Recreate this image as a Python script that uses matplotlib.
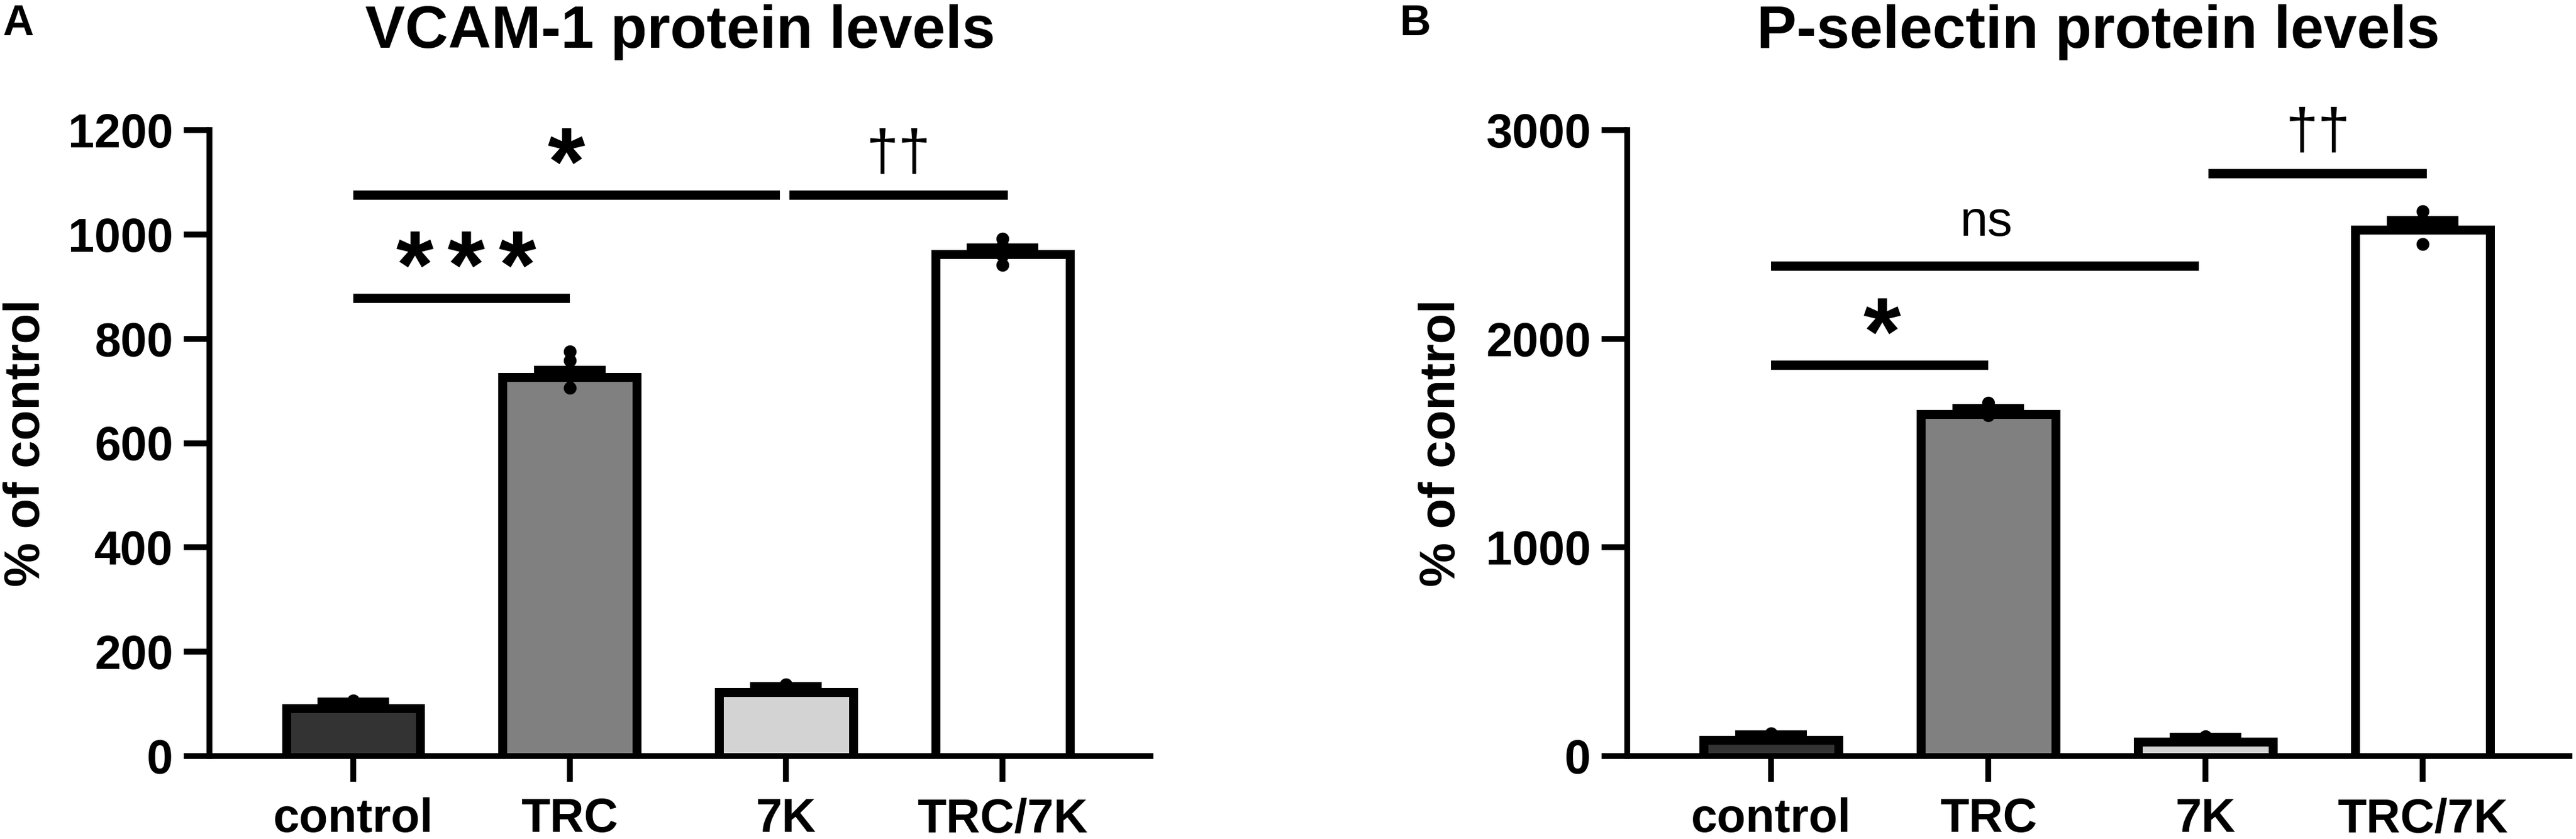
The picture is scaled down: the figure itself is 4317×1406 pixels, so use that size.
import matplotlib
matplotlib.use("Agg")
import matplotlib.pyplot as plt
import numpy as np
from matplotlib.textpath import TextPath
from matplotlib.font_manager import FontProperties
from matplotlib.transforms import ScaledTranslation

# ---------------- data ----------------
categories = ["control", "TRC", "7K", "TRC/7K"]
bar_colors = ["#333333", "#808080", "#d3d3d3", "#ffffff"]

vcam_title = "VCAM-1 protein levels"
vcam_mean = [100, 735, 131, 971]
vcam_sem = [6, 7, 5, 6]
vcam_points = [[106, 101, 97, 96],
               [776, 759, 728, 706],
               [137, 131, 128, 127],
               [992, 978, 960, 941]]
vcam_yticks = [0, 200, 400, 600, 800, 1000, 1200]
vcam_sig_x0 = [0.0, 2.015, 0.0]
vcam_sig_x1 = [1.97, 3.025, 1.0]
vcam_sig_y = [1075, 1075, 877]
vcam_sig_label = ["*", "††", "***"]
vcam_sig_label_x = [0.985, 2.52, 0.52]

psel_title = "P-selectin protein levels"
psel_mean = [100, 1660, 90, 2544]
psel_sem = [8, 13, 6, 30]
psel_points = [[108, 101, 96, 95],
               [1693, 1668, 1645, 1634],
               [95, 91, 88, 86],
               [2611, 2570, 2540, 2454]]
psel_yticks = [0, 1000, 2000, 3000]
psel_sig_x0 = [0.0, 0.0, 2.014]
psel_sig_x1 = [1.0, 1.97, 3.02]
psel_sig_y = [1873, 2348, 2790]
psel_sig_label = ["*", "ns", "††"]
psel_sig_label_x = [0.51, 0.99, 2.517]

ylabel = "% of control"

# ---------------- layout ----------------
DPI = 100
W, H = 4317, 1406
plt.rcParams["font.family"] = ["Liberation Sans", "DejaVu Sans"]
plt.rcParams["font.weight"] = "bold"

fig = plt.figure(figsize=(W / DPI, H / DPI), dpi=DPI)

def px2pt(p):
    return p * 72.0 / DPI

BAR_LW_PX = 15
BAR_W = 0.62

def ink_box(s, weight):
    fp = FontProperties(family=["Liberation Sans", "DejaVu Sans"], weight=weight)
    return TextPath((0, 0), s, size=1, prop=fp).get_extents()

def sig_text(ax, x, y, s):
    if set(s) == {"*"}:
        weight, ink_h, gap, ref = "bold", 60, 52, "*"
    elif "†" in s:
        weight, ink_h, gap, ref = "normal", 77, 36, "†"
    else:
        weight, ink_h, gap, ref = "normal", 45, 51, "n"
    b = ink_box(ref, weight)
    size_px = ink_h / b.height
    fs = px2pt(size_px)
    if ref == "n":
        off = gap
    else:
        off = gap - b.y0 * size_px
    if ref == "*":
        n = len(s)
        spacing = 86
        for k in range(n):
            dx = (k - (n - 1) / 2) * spacing
            ax.annotate("*", xy=(x, y), xytext=(px2pt(dx), px2pt(off)),
                        textcoords="offset points", ha="center", va="baseline",
                        fontsize=fs, fontweight=weight)
    else:
        ax.annotate(s, xy=(x, y), xytext=(0, px2pt(off)),
                    textcoords="offset points", ha="center", va="baseline",
                    fontsize=fs, fontweight=weight)

def panel(left_px, right_px, xlim, mean, sem, points, yticks,
          sx0, sx1, sy, slab, slx, title, letter, letter_px, ylab_px):
    top_px, bot_px = 218, 1267
    ax = fig.add_axes([left_px / W, (H - bot_px) / H,
                       (right_px - left_px) / W, (bot_px - top_px) / H])
    x = np.arange(len(categories))
    bars = ax.bar(x, mean, width=BAR_W, color=bar_colors, edgecolor="black",
                  linewidth=px2pt(BAR_LW_PX), zorder=1)
    shift = ScaledTranslation(0, -BAR_LW_PX / 2 / DPI, fig.dpi_scale_trans)
    for r in bars:
        r.set_transform(ax.transData + shift)
    ax.errorbar(x, mean, yerr=[np.zeros(len(sem)), sem], fmt="none",
                ecolor="black", elinewidth=px2pt(10), capsize=43.2,
                capthick=px2pt(10), zorder=3)
    for i, pts in enumerate(points):
        ax.plot(np.full(len(pts), x[i]), pts, "o", color="black",
                ms=px2pt(21.5), mew=0, zorder=4, clip_on=False)
    for a, b_, yy in zip(sx0, sx1, sy):
        ax.plot([a, b_], [yy, yy], color="black", lw=px2pt(15.5),
                solid_capstyle="butt", zorder=3, clip_on=False)
    for lab, lx, yy in zip(slab, slx, sy):
        sig_text(ax, lx, yy, lab)

    ax.set_xlim(*xlim)
    ax.set_ylim(yticks[0], yticks[-1])
    ax.set_yticks(yticks)
    ax.set_xticks(x)
    ax.set_xticklabels(categories)
    for s in ["top", "right"]:
        ax.spines[s].set_visible(False)
    for s in ["left", "bottom"]:
        ax.spines[s].set_linewidth(7)
        ax.spines[s].set_capstyle("projecting")
    ax.tick_params(axis="both", length=31, width=7, direction="out",
                   labelsize=57, colors="black")
    ax.tick_params(axis="y", pad=13)
    ax.tick_params(axis="x", pad=19)
    for lbl in ax.get_xticklabels() + ax.get_yticklabels():
        lbl.set_fontweight("bold")

    ax.set_ylabel(ylabel, fontsize=60, fontweight="bold")
    ax.yaxis.set_label_coords((ylab_px - left_px) / (right_px - left_px), 0.5)
    ax.yaxis.label.set_va("center")

    cx = (left_px + right_px) / 2 / W
    fig.text(cx, 1 - 80 / H, title, ha="center", va="baseline",
             fontsize=72, fontweight="bold")
    fig.text(letter_px / W, 1 - 59 / H, letter, ha="left", va="baseline",
             fontsize=52, fontweight="bold")
    return ax

panel(351, 1928, (-0.6645, 3.6835), vcam_mean, vcam_sem, vcam_points,
      vcam_yticks, vcam_sig_x0, vcam_sig_x1, vcam_sig_y, vcam_sig_label,
      vcam_sig_label_x, vcam_title, "A", 4, 44)
panel(2727, 4306, (-0.662, 3.676), psel_mean, psel_sem, psel_points,
      psel_yticks, psel_sig_x0, psel_sig_x1, psel_sig_y, psel_sig_label,
      psel_sig_label_x, psel_title, "B", 2345, 2416)

fig.savefig("out.png", dpi=DPI)
